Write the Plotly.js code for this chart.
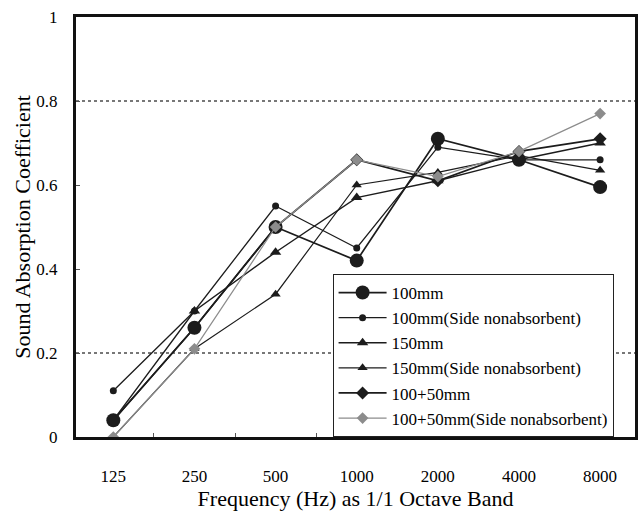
<!DOCTYPE html>
<html>
<head>
<meta charset="utf-8">
<script src="https://cdn.plot.ly/plotly-3.0.1.min.js"></script>
<style>
  html, body { margin: 0; padding: 0; background: #fff; }
  #chart { width: 638px; height: 515px; }
</style>
</head>
<body>
<div id="chart"></div>
<script>
const bands = ["125", "250", "500", "1000", "2000", "4000", "8000"];

const s100 = [0.04, 0.26, 0.50, 0.42, 0.71, 0.66, 0.595];
const s100Side = [0.11, 0.30, 0.55, 0.45, 0.69, 0.66, 0.66];
const s150 = [0.04, 0.30, 0.44, 0.57, 0.61, 0.66, 0.70];
const s150Side = [0.00, 0.21, 0.34, 0.60, 0.63, 0.67, 0.635];
const s100p50 = [0.04, 0.26, 0.50, 0.66, 0.61, 0.68, 0.71];
const s100p50Side = [0.00, 0.21, 0.50, 0.66, 0.62, 0.68, 0.77];

const names = [
  "100mm",
  "100mm(Side nonabsorbent)",
  "150mm",
  "150mm(Side nonabsorbent)",
  "100+50mm",
  "100+50mm(Side nonabsorbent)"
];

const dark = "#1c1c1c";
const grey = "#8c8c8c";
const serif = "Liberation Serif, Times New Roman, serif";

function tr(y, name, symbol, size, color, width) {
  return {
    x: bands, y: y, name: name, type: "scatter", mode: "lines+markers",
    line: { color: color, width: width },
    marker: { symbol: symbol, size: size, color: color, line: { width: 0 } }
  };
}

const data = [
  tr(s100, names[0], "circle", 14, dark, 1.7),
  tr(s100Side, names[1], "circle", 7, dark, 1.3),
  tr(s150, names[2], "triangle-up", 10, dark, 1.4),
  tr(s150Side, names[3], "triangle-up", 9, dark, 1.2),
  tr(s100p50, names[4], "diamond", 10, dark, 1.7),
  tr(s100p50Side, names[5], "diamond", 9, grey, 1.2)
];

// invisible trace carrying the dotted reference gridlines
data.push({ x: bands, y: s100, yaxis: "y2", type: "scatter", mode: "none",
  showlegend: false, hoverinfo: "skip" });

const layout = {
  width: 638, height: 515,
  margin: { l: 76, r: 3, t: 17, b: 78 },
  paper_bgcolor: "#fff", plot_bgcolor: "#fff",
  font: { family: serif, color: "#000", size: 17 },
  showlegend: true,
  xaxis: {
    type: "category",
    range: [-0.46, 6.43],
    showline: true, linewidth: 3, linecolor: "#111", mirror: true,
    ticks: "inside", ticklen: 4, tickwidth: 1, tickcolor: "#555",
    tickson: "boundaries",
    showgrid: false, zeroline: false,
    ticklabelstandoff: 22,
    tickfont: { family: serif, size: 17, color: "#000" },
    title: { text: "Frequency (Hz) as 1/1 Octave Band", font: { family: serif, size: 22, color: "#000" }, standoff: 2 }
  },
  yaxis: {
    range: [0, 1],
    tickvals: [0, 0.2, 0.4, 0.6, 0.8, 1],
    ticktext: ["0", "0.2", "0.4", "0.6", "0.8", "1"],
    showline: true, linewidth: 3, linecolor: "#111", mirror: true,
    ticks: "inside", ticklen: 4, tickwidth: 1, tickcolor: "#555",
    showgrid: false, zeroline: false,
    ticklabelstandoff: 12,
    tickfont: { family: serif, size: 17, color: "#000" },
    title: { text: "Sound Absorption Coefficient", font: { family: serif, size: 22, color: "#000" }, standoff: 0 }
  },
  yaxis2: {
    overlaying: "y", range: [0, 1],
    tickvals: [0.2, 0.8], showticklabels: false, ticks: "",
    showgrid: true, gridcolor: "#777", gridwidth: 1.5, griddash: "dot",
    zeroline: false, showline: false
  },
  legend: {
    x: 0.459, y: 0, xanchor: "left", yanchor: "bottom",
    bgcolor: "#fff", bordercolor: "#222", borderwidth: 1,
    font: { family: serif, size: 17, color: "#000" },
    itemwidth: 48, tracegroupgap: 0
  }
};

Plotly.newPlot("chart", data, layout, { displayModeBar: false, staticPlot: true });
</script>
</body>
</html>
